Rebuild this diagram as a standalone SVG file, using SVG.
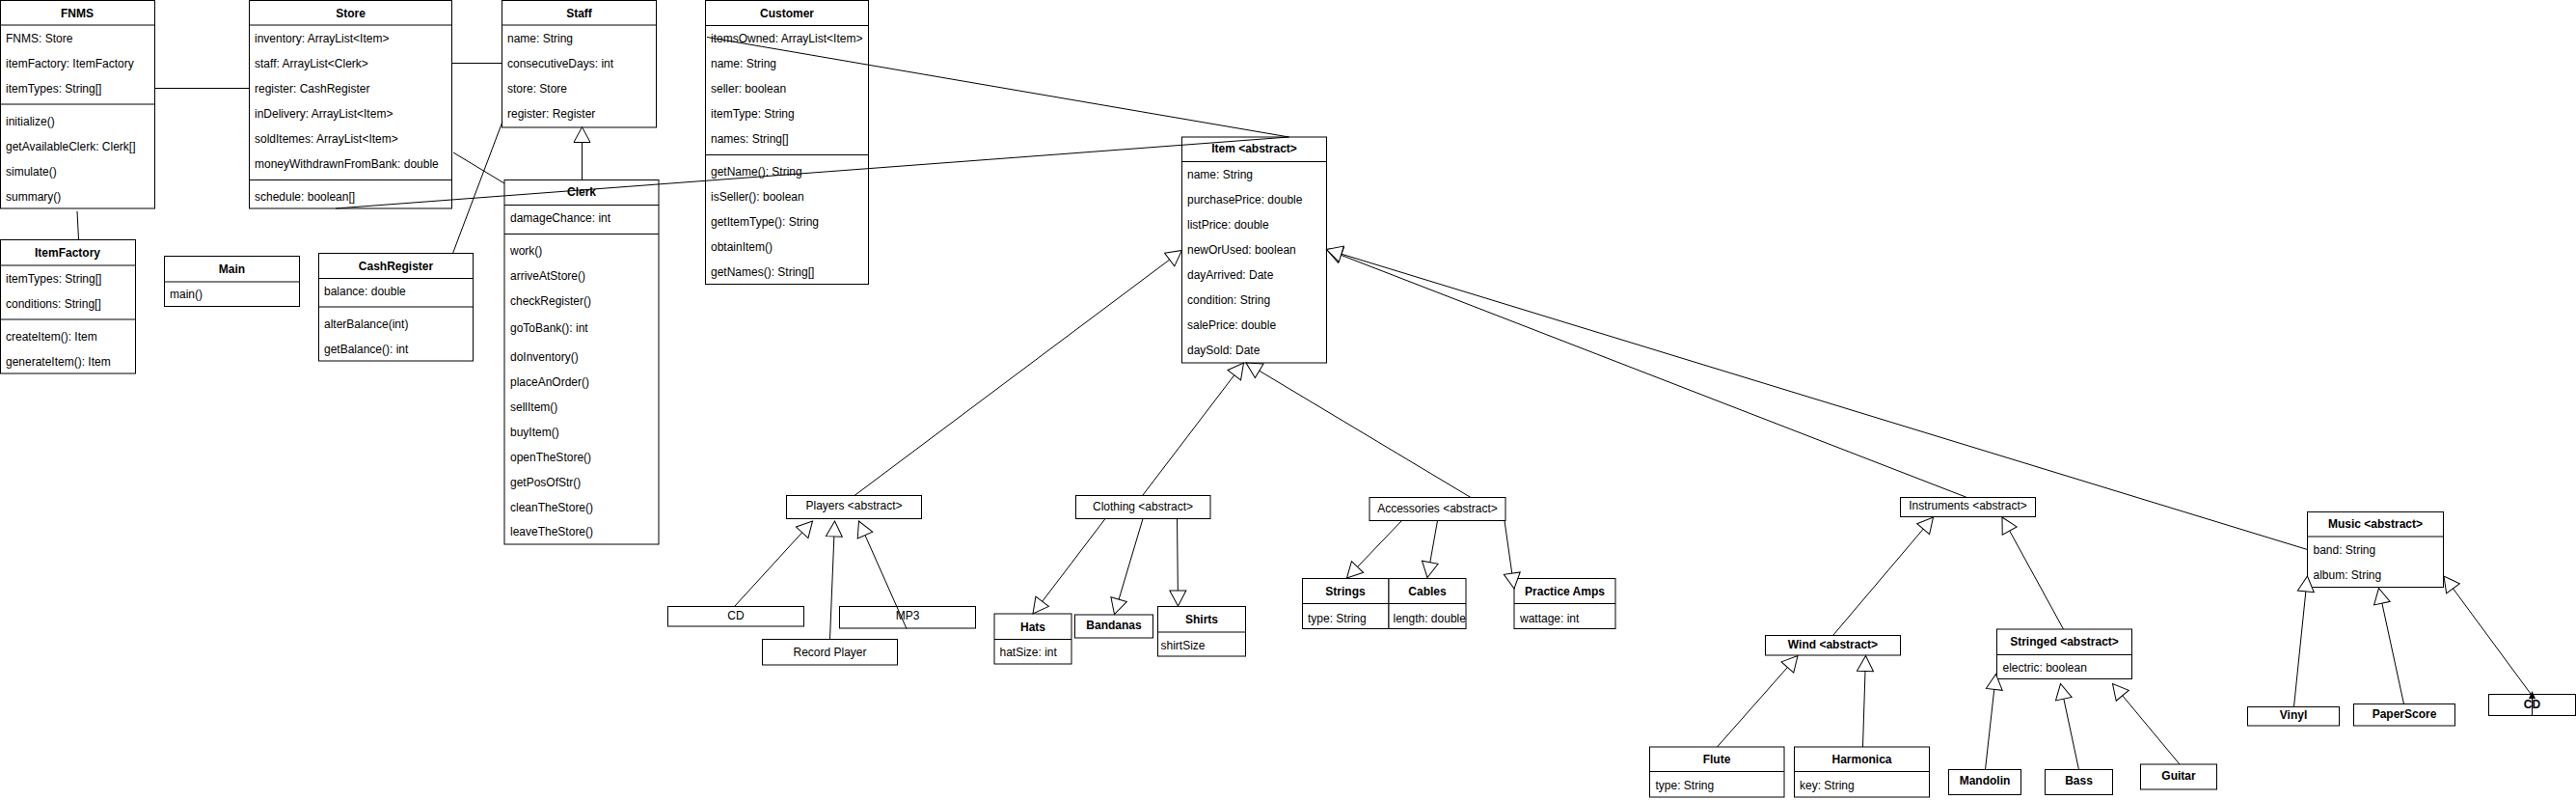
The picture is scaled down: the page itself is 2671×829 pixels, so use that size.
<svg xmlns="http://www.w3.org/2000/svg" width="2671" height="829" viewBox="0 0 2671 829">
<style>
.b{fill:#fff;stroke:#000;stroke-width:1}
.s{fill:none;stroke:#000;stroke-width:1}
text{font-family:"Liberation Sans",Arial,sans-serif;font-size:12px;fill:#000;dominant-baseline:central}
.h{font-weight:bold;text-anchor:middle}
.c{text-anchor:middle}
.l{fill:none;stroke:#000;stroke-width:1}
.g{fill:none;stroke:#000;stroke-width:1;marker-end:url(#tri)}
</style>
<defs>
<marker id="tri" viewBox="-17 -10 19 20" refX="0" refY="0" markerWidth="19" markerHeight="20" markerUnits="userSpaceOnUse" orient="auto">
<path d="M-16,-8.5 L0,0 L-16,8.5 Z" fill="#fff" stroke="#000" stroke-width="1"/>
</marker>
<clipPath id="clipCables"><rect x="1440" y="599" width="80" height="53"/></clipPath>
</defs>

<g id="FNMS">
<rect class="b" x="0.5" y="0.5" width="160" height="215.5"/>
<line class="s" x1="0.5" y1="26" x2="160.5" y2="26"/>
<line class="s" x1="0.5" y1="108" x2="160.5" y2="108"/>
<text class="h" x="80" y="13.5">FNMS</text>
<text x="6" y="39.5">FNMS: Store</text>
<text x="6" y="65.5">itemFactory: ItemFactory</text>
<text x="6" y="91.5">itemTypes: String[]</text>
<text x="6" y="126">initialize()</text>
<text x="6" y="152">getAvailableClerk: Clerk[]</text>
<text x="6" y="177.5">simulate()</text>
<text x="6" y="203.5">summary()</text>
</g>

<g id="Store">
<rect class="b" x="258.5" y="0.5" width="210" height="215.5"/>
<line class="s" x1="258.5" y1="26" x2="468.5" y2="26"/>
<line class="s" x1="258.5" y1="186.5" x2="468.5" y2="186.5"/>
<text class="h" x="363.5" y="13.5">Store</text>
<text x="264" y="39.5">inventory: ArrayList&lt;Item&gt;</text>
<text x="264" y="65.5">staff: ArrayList&lt;Clerk&gt;</text>
<text x="264" y="91.5">register: CashRegister</text>
<text x="264" y="117.5">inDelivery: ArrayList&lt;Item&gt;</text>
<text x="264" y="143.5">soldItemes: ArrayList&lt;Item&gt;</text>
<text x="264" y="169.5">moneyWithdrawnFromBank: double</text>
<text x="264" y="203.5">schedule: boolean[]</text>
</g>

<g id="Staff">
<rect class="b" x="520.5" y="0.5" width="160" height="131.5"/>
<line class="s" x1="520.5" y1="26" x2="680.5" y2="26"/>
<text class="h" x="600.5" y="13.5">Staff</text>
<text x="526" y="39.5">name: String</text>
<text x="526" y="65.5">consecutiveDays: int</text>
<text x="526" y="91.5">store: Store</text>
<text x="526" y="117.5">register: Register</text>
</g>

<g id="Customer">
<rect class="b" x="731.5" y="0.5" width="169" height="294"/>
<line class="s" x1="731.5" y1="26.5" x2="900.5" y2="26.5"/>
<line class="s" x1="731.5" y1="160.5" x2="900.5" y2="160.5"/>
<text class="h" x="816" y="13.5">Customer</text>
<text x="737" y="39.5">itemsOwned: ArrayList&lt;Item&gt;</text>
<text x="737" y="66">name: String</text>
<text x="737" y="92">seller: boolean</text>
<text x="737" y="118">itemType: String</text>
<text x="737" y="144">names: String[]</text>
<text x="737" y="177.5">getName(): String</text>
<text x="737" y="203.5">isSeller(): boolean</text>
<text x="737" y="230">getItemType(): String</text>
<text x="737" y="256">obtainItem()</text>
<text x="737" y="282">getNames(): String[]</text>
</g>

<g id="Clerk">
<rect class="b" x="523" y="186.5" width="160" height="377.5"/>
<line class="s" x1="523" y1="212.5" x2="683" y2="212.5"/>
<line class="s" x1="523" y1="242.5" x2="683" y2="242.5"/>
<text class="h" x="603" y="199">Clerk</text>
<text x="529" y="226">damageChance: int</text>
<text x="529" y="260">work()</text>
<text x="529" y="286">arriveAtStore()</text>
<text x="529" y="311.5">checkRegister()</text>
<text x="529" y="339.5">goToBank(): int</text>
<text x="529" y="369.5">doInventory()</text>
<text x="529" y="396">placeAnOrder()</text>
<text x="529" y="422">sellItem()</text>
<text x="529" y="447.5">buyItem()</text>
<text x="529" y="473.5">openTheStore()</text>
<text x="529" y="499.5">getPosOfStr()</text>
<text x="529" y="525.5">cleanTheStore()</text>
<text x="529" y="551">leaveTheStore()</text>
</g>

<g id="ItemFactory">
<rect class="b" x="0.5" y="248.5" width="140" height="138.5"/>
<line class="s" x1="0.5" y1="275" x2="140.5" y2="275"/>
<line class="s" x1="0.5" y1="331" x2="140.5" y2="331"/>
<text class="h" x="70" y="262">ItemFactory</text>
<text x="6" y="289">itemTypes: String[]</text>
<text x="6" y="315">conditions: String[]</text>
<text x="6" y="349">createItem(): Item</text>
<text x="6" y="375">generateItem(): Item</text>
</g>

<g id="Main">
<rect class="b" x="170.5" y="265.5" width="140" height="52"/>
<line class="s" x1="170.5" y1="292" x2="310.5" y2="292"/>
<text class="h" x="240.5" y="278.5">Main</text>
<text x="176" y="305">main()</text>
</g>

<g id="CashRegister">
<rect class="b" x="330.5" y="262.5" width="160" height="111.5"/>
<line class="s" x1="330.5" y1="288.5" x2="490.5" y2="288.5"/>
<line class="s" x1="330.5" y1="318" x2="490.5" y2="318"/>
<text class="h" x="410.5" y="275.5">CashRegister</text>
<text x="336" y="302">balance: double</text>
<text x="336" y="336">alterBalance(int)</text>
<text x="336" y="361.5">getBalance(): int</text>
</g>

<g id="Item">
<rect class="b" x="1225.5" y="142" width="150" height="234"/>
<line class="s" x1="1225.5" y1="167.5" x2="1375.5" y2="167.5"/>
<text class="h" x="1300.5" y="154">Item &lt;abstract&gt;</text>
<text x="1231" y="181">name: String</text>
<text x="1231" y="207">purchasePrice: double</text>
<text x="1231" y="233">listPrice: double</text>
<text x="1231" y="259">newOrUsed: boolean</text>
<text x="1231" y="285">dayArrived: Date</text>
<text x="1231" y="311">condition: String</text>
<text x="1231" y="337">salePrice: double</text>
<text x="1231" y="363">daySold: Date</text>
</g>

<g id="Players">
<rect class="b" x="815.5" y="513.5" width="140" height="24"/>
<text class="c" x="885.5" y="524">Players &lt;abstract&gt;</text>
</g>
<g id="CD_Player">
<rect class="b" x="692.5" y="628.5" width="141" height="20.5"/>
<text class="c" x="763" y="637.5">CD</text>
</g>
<g id="MP3">
<rect class="b" x="870.5" y="628.5" width="141" height="22.5"/>
<text class="c" x="941" y="637.5">MP3</text>
</g>
<g id="RecordPlayer">
<rect class="b" x="790.5" y="662.5" width="140" height="26.5"/>
<text class="c" x="860.5" y="675.5">Record Player</text>
</g>

<g id="Clothing">
<rect class="b" x="1115.5" y="513.5" width="139.5" height="24"/>
<text class="c" x="1185" y="525">Clothing &lt;abstract&gt;</text>
</g>
<g id="Hats">
<rect class="b" x="1031" y="636" width="80" height="52"/>
<line class="s" x1="1031" y1="662.5" x2="1111" y2="662.5"/>
<text class="h" x="1071" y="650">Hats</text>
<text x="1036.5" y="675.5">hatSize: int</text>
</g>
<g id="Bandanas">
<rect class="b" x="1114.5" y="637" width="81" height="24"/>
<text class="h" x="1155" y="648">Bandanas</text>
</g>
<g id="Shirts">
<rect class="b" x="1200.5" y="628.5" width="91" height="51.5"/>
<line class="s" x1="1200.5" y1="655" x2="1291.5" y2="655"/>
<text class="h" x="1246" y="642">Shirts</text>
<text x="1203.5" y="668.5">shirtSize</text>
</g>

<g id="Accessories">
<rect class="b" x="1420" y="515.5" width="141" height="24"/>
<text class="c" x="1490.5" y="527">Accessories &lt;abstract&gt;</text>
</g>
<g id="Strings">
<rect class="b" x="1350.5" y="599.5" width="89.5" height="52"/>
<line class="s" x1="1350.5" y1="625.5" x2="1440" y2="625.5"/>
<text class="h" x="1395" y="612.5">Strings</text>
<text x="1356" y="640.5">type: String</text>
</g>
<g id="Cables">
<rect class="b" x="1440" y="599.5" width="80" height="52"/>
<line class="s" x1="1440" y1="625.5" x2="1520" y2="625.5"/>
<text class="c" x="1480" y="612.5" style="font-weight:bold">Cables</text>
<text x="1444.5" y="640.5" clip-path="url(#clipCables)">length: double</text>
</g>
<g id="PracticeAmps">
<rect class="b" x="1570" y="599.5" width="105" height="52"/>
<line class="s" x1="1570" y1="625.5" x2="1675" y2="625.5"/>
<text class="h" x="1622.5" y="612.5">Practice Amps</text>
<text x="1576" y="640.5">wattage: int</text>
</g>

<g id="Instruments">
<rect class="b" x="1970.5" y="515.5" width="140" height="20"/>
<text class="c" x="2040.5" y="524">Instruments &lt;abstract&gt;</text>
</g>
<g id="Wind">
<rect class="b" x="1830.5" y="658.5" width="140" height="20.5"/>
<text class="h" x="1900.5" y="668">Wind &lt;abstract&gt;</text>
</g>
<g id="Stringed">
<rect class="b" x="2070.5" y="652" width="140" height="51.5"/>
<line class="s" x1="2070.5" y1="678.5" x2="2210.5" y2="678.5"/>
<text class="h" x="2140.5" y="664.5">Stringed &lt;abstract&gt;</text>
<text x="2076.5" y="691.5">electric: boolean</text>
</g>
<g id="Flute">
<rect class="b" x="1710.5" y="774" width="139.5" height="52"/>
<line class="s" x1="1710.5" y1="799.5" x2="1850" y2="799.5"/>
<text class="h" x="1780" y="786.5">Flute</text>
<text x="1716.5" y="813.5">type: String</text>
</g>
<g id="Harmonica">
<rect class="b" x="1860.5" y="774" width="140" height="52"/>
<line class="s" x1="1860.5" y1="799.5" x2="2000.5" y2="799.5"/>
<text class="h" x="1930.5" y="786.5">Harmonica</text>
<text x="1866" y="813.5">key: String</text>
</g>
<g id="Mandolin">
<rect class="b" x="2020.5" y="797.5" width="75" height="26"/>
<text class="h" x="2058" y="808.5">Mandolin</text>
</g>
<g id="Bass">
<rect class="b" x="2120.5" y="797.5" width="70" height="26"/>
<text class="h" x="2155.5" y="809">Bass</text>
</g>
<g id="Guitar">
<rect class="b" x="2219.5" y="792" width="79" height="26"/>
<text class="h" x="2259" y="803.5">Guitar</text>
</g>

<g id="Music">
<rect class="b" x="2392.5" y="530.5" width="141" height="78"/>
<line class="s" x1="2392.5" y1="556" x2="2533.5" y2="556"/>
<text class="h" x="2463" y="543">Music &lt;abstract&gt;</text>
<text x="2398.5" y="570">band: String</text>
<text x="2398.5" y="596">album: String</text>
</g>
<g id="Vinyl">
<rect class="b" x="2330.5" y="732.5" width="95" height="19.5"/>
<text class="h" x="2378" y="741">Vinyl</text>
</g>
<g id="PaperScore">
<rect class="b" x="2440.5" y="729.5" width="105" height="22.5"/>
<text class="h" x="2493" y="739.5">PaperScore</text>
</g>
<g id="CD_Music">
<rect class="b" x="2580.5" y="719.5" width="90" height="22"/>
<text class="h" x="2625.5" y="730">CD</text>
</g>

<g id="connectors">
<line class="l" x1="160.5" y1="91.5" x2="258.5" y2="91.5"/>
<line class="l" x1="80" y1="219" x2="81.5" y2="248"/>
<line class="l" x1="468.5" y1="65.5" x2="520.5" y2="65.5"/>
<line class="l" x1="470" y1="158" x2="523" y2="190"/>
<line class="l" x1="469.5" y1="262.5" x2="521" y2="126"/>
<line class="g" x1="603.5" y1="186.5" x2="603.5" y2="131.5"/>
<line class="l" x1="733" y1="38.5" x2="1336.5" y2="142"/>
<line class="l" x1="348" y1="216" x2="1336.5" y2="142"/>
<line class="g" x1="886" y1="513.5" x2="1225.5" y2="259.5"/>
<line class="g" x1="1185" y1="513" x2="1289.5" y2="376"/>
<line class="g" x1="1525" y1="515.5" x2="1292" y2="376"/>
<line class="g" x1="2039.5" y1="515.5" x2="1375.5" y2="258.5"/>
<line class="g" x1="2392.5" y1="569.5" x2="1375.5" y2="258.5"/>
<line class="g" x1="761.5" y1="628.5" x2="842.5" y2="540"/>
<line class="g" x1="860.5" y1="662.5" x2="865.5" y2="540"/>
<line class="g" x1="940" y1="651.5" x2="890.5" y2="540"/>
<line class="g" x1="1146" y1="537.5" x2="1071" y2="636"/>
<line class="g" x1="1185" y1="537.5" x2="1155.5" y2="636.5"/>
<line class="g" x1="1220.5" y1="537.5" x2="1221.5" y2="628"/>
<line class="g" x1="1453.5" y1="539.5" x2="1396.5" y2="599"/>
<line class="g" x1="1490.5" y1="539.5" x2="1480" y2="598.5"/>
<line class="g" x1="1560" y1="539.5" x2="1570" y2="610"/>
<line class="g" x1="1900.5" y1="658.5" x2="2004.5" y2="536"/>
<line class="g" x1="2139.5" y1="652" x2="2076" y2="536"/>
<line class="g" x1="1780.5" y1="774" x2="1864" y2="679.5"/>
<line class="g" x1="1931.5" y1="774" x2="1934.5" y2="679.5"/>
<line class="g" x1="2058.5" y1="797.5" x2="2069.5" y2="698.5"/>
<line class="g" x1="2155.5" y1="797.5" x2="2136.5" y2="708.5"/>
<line class="g" x1="2260" y1="792" x2="2190.5" y2="708.5"/>
<line class="g" x1="2378.5" y1="732.5" x2="2392.5" y2="597"/>
<line class="g" x1="2492.5" y1="729.5" x2="2466.5" y2="609.5"/>
<path class="g" d="M2625.5,741.5 L2625.5,721 L2534,597"/>
<path d="M2625.5,716 L2622,724 L2629,724 Z" fill="#000"/>
</g>
</svg>
